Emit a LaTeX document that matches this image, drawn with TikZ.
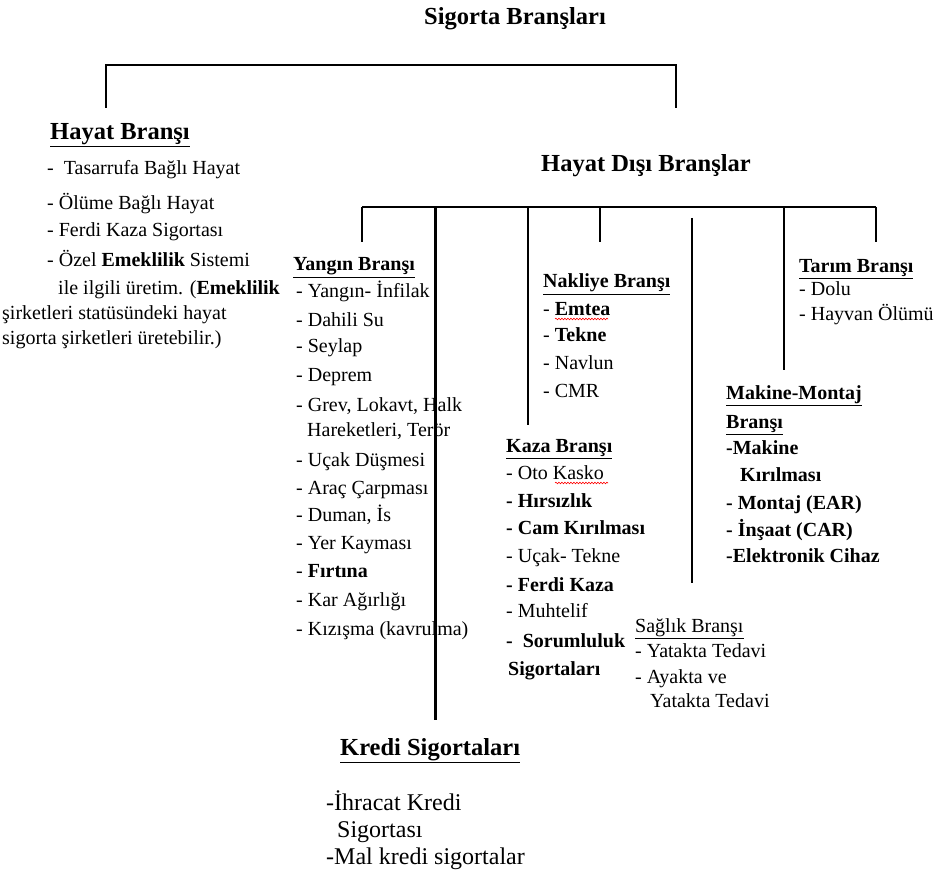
\documentclass[tikz,border=0pt]{standalone}
\usepackage{fontspec}
\setmainfont{Liberation Serif}
\usetikzlibrary{decorations.pathmorphing}
\tikzset{
  itm/.style={anchor=base west, inner sep=0pt, font=\fontsize{20}{24}\selectfont},
  itmb/.style={itm, font=\fontsize{20}{24}\selectfont\bfseries},
  hd/.style={anchor=base west, inner sep=0pt, font=\fontsize{20}{24}\selectfont\bfseries},
  big/.style={anchor=base west, inner sep=0pt, font=\fontsize{24.5}{28}\selectfont\bfseries},
  kitm/.style={anchor=base west, inner sep=0pt, font=\fontsize{24}{28}\selectfont},
  link/.style={line width=1.5pt},
  thick link/.style={line width=3pt},
  wavy/.style={red, line width=0.6pt, decorate, decoration={snake, amplitude=0.8pt, segment length=3pt}}
}
\begin{document}
\begin{tikzpicture}[x=1pt,y=-1pt]
\useasboundingbox[fill=white] (0,0) rectangle (938,874);

% title
\node[anchor=base, inner sep=0pt, font=\fontsize{24.5}{28}\selectfont\bfseries] (title) at (515,25) {Sigorta Branşları};

% Hayat Bransi
\node[big] (hayat) at (50,140) {\underline{Hayat Branşı}};
\node[itm] (h1) at (47,175) {-\ \ Tasarrufa Bağlı Hayat};
\node[itm] (h2) at (47,210) {- Ölüme Bağlı Hayat};
\node[itm] (h3) at (47,237) {- Ferdi Kaza Sigortası};
\node[itm] (h4) at (47,267) {- Özel \textbf{Emeklilik} Sistemi};
\node[itm] (h5) at (58,295) {ile ilgili üretim. (\textbf{Emeklilik}};
\node[itm] (h6) at (2,320) {şirketleri statüsündeki hayat};
\node[itm] (h7) at (2,345) {sigorta şirketleri üretebilir.)};

% Hayat Disi
\node[big] (hdisi) at (541,172) {Hayat Dışı Branşlar};

% Yangin
\node[hd] (yangin) at (293,271) {\underline{Yangın Branşı}};
\node[itm] (y1) at (296,298) {- Yangın- İnfilak};
\node[itm] (y2) at (296,327) {- Dahili Su};
\node[itm] (y3) at (296,353) {- Seylap};
\node[itm] (y4) at (296,382) {- Deprem};
\node[itm] (y5) at (296,412) {- Grev, Lokavt, Halk};
\node[itm] (y6) at (307,437) {Hareketleri, Terör};
\node[itm] (y7) at (296,467) {- Uçak Düşmesi};
\node[itm] (y8) at (296,495) {- Araç Çarpması};
\node[itm] (y9) at (296,522) {- Duman, İs};
\node[itm] (y10) at (296,550) {- Yer Kayması};
\node[itm] (y11) at (296,578) {- \textbf{Fırtına}};
\node[itm] (y12) at (296,607) {- Kar Ağırlığı};
\node[itm] (y13) at (296,635) {- Kızışma (kavrulma)};

% Nakliye
\node[hd] (nakliye) at (543,288) {\underline{Nakliye Branşı}};
\node[itm] (n1) at (543,316) {- \textbf{Emtea}};
\node[itm] (n2) at (543,342) {- \textbf{Tekne}};
\node[itm] (n3) at (543,370) {- Navlun};
\node[itm] (n4) at (543,398) {- CMR};
\draw[wavy] ([xshift=12pt,yshift=-3pt]n1.base west) -- ([xshift=65pt,yshift=-3pt]n1.base west);

% Kaza
\node[hd] (kaza) at (506,453) {\underline{Kaza Branşı}};
\node[itm] (k1) at (506,480) {- Oto Kasko};
\node[itmb] (k2) at (506,508) {- Hırsızlık};
\node[itmb] (k3) at (506,535) {- Cam Kırılması};
\node[itm] (k4) at (506,563) {- Uçak- Tekne};
\node[itmb] (k5) at (506,591) {- Ferdi Kaza};
\node[itm] (k6) at (506,618) {- Muhtelif};
\node[itmb] (k7) at (506,647) {-\ \ Sorumluluk};
\node[itmb] (k8) at (508,675) {Sigortaları};
\draw[wavy] ([xshift=49pt,yshift=-3pt]k1.base west) -- ([xshift=102pt,yshift=-3pt]k1.base west);

% Saglik
\node[itm] (saglik) at (635,632) {\underline{Sağlık Branşı}};
\node[itm] (s1) at (635,657) {- Yatakta Tedavi};
\node[itm] (s2) at (635,683) {- Ayakta ve};
\node[itm] (s3) at (650,707) {Yatakta Tedavi};

% Tarim
\node[hd] (tarim) at (799,273) {\underline{Tarım Branşı}};
\node[itm] (t1) at (799,296) {- Dolu};
\node[itm] (t2) at (799,321) {- Hayvan Ölümü};

% Makine-Montaj
\node[hd] (makine) at (726,400) {\underline{Makine-Montaj}};
\node[hd] (makine2) at (726,429) {\underline{Branşı}};
\node[itmb] (m1) at (726,455) {-Makine};
\node[itmb] (m2) at (740,482) {Kırılması};
\node[itmb] (m3) at (726,510) {- Montaj (EAR)};
\node[itmb] (m4) at (726,537) {- İnşaat (CAR)};
\node[itmb] (m5) at (726,563) {-Elektronik Cihaz};

% Kredi
\node[big] (kredi) at (340,755) {\underline{Kredi Sigortaları}};
\node[kitm] (kr1) at (326,810) {-İhracat Kredi};
\node[kitm] (kr2) at (337,837) {Sigortası};
\node[kitm] (kr3) at (326,864) {-Mal kredi sigortalar};

% connector end points
\coordinate (topL) at (106,65);
\coordinate (topR) at (676,65);
\coordinate (hayatTop) at (106,108);
\coordinate (hdisiTop) at (676,108);
\coordinate (barL) at (362,207);
\coordinate (barR) at (876,207);
\coordinate (yanginTop) at (362,242);
\coordinate (krediBar) at (435,207);
\coordinate (krediTop) at (435,720);
\coordinate (kazaBar) at (528,207);
\coordinate (kazaTop) at (528,425);
\coordinate (nakliyeBar) at (600,207);
\coordinate (nakliyeTop) at (600,242);
\coordinate (saglikTopA) at (692,218);
\coordinate (saglikTop) at (692,583);
\coordinate (makineBar) at (784,207);
\coordinate (makineTop) at (784,370);
\coordinate (tarimTop) at (876,242);

% connectors
\draw[link] (hayatTop) -- (topL) -- (topR) -- (hdisiTop);
\draw[link, line width=1.3pt] (barL) -- (barR);
\draw[link, line width=1.3pt] (barL) -- (yanginTop);
\draw[link, line width=1.2pt] (kazaBar) -- (kazaTop);
\draw[link, line width=1.3pt] (nakliyeBar) -- (nakliyeTop);
\draw[link, line width=1.3pt] (saglikTopA) -- (saglikTop);
\draw[link, line width=2.4pt] (makineBar) -- (makineTop);
\draw[link, line width=1.8pt] (barR) -- (tarimTop);
\draw[thick link] (krediBar) -- (krediTop);
\end{tikzpicture}
\end{document}
